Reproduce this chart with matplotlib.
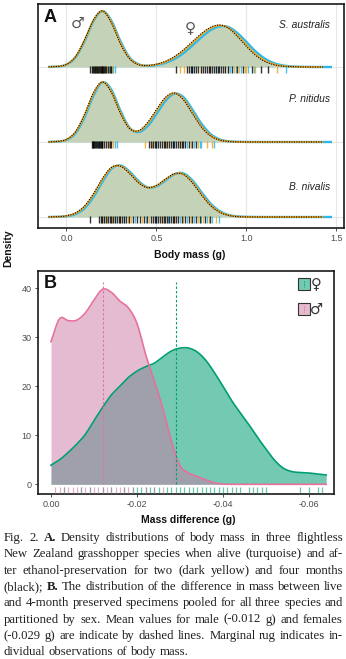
import numpy as np
import matplotlib
matplotlib.use("Agg")
import matplotlib.pyplot as plt
from matplotlib.patches import Rectangle
from matplotlib.lines import Line2D

# ----------------------------------------------------------------- data
# Panel A: ridge densities (relative height units; 75 units = ridge spacing)
SPECIES = ["S. australis", "P. nitidus", "B. nivalis"]
X_GRID = [-0.10, -0.05, 0.00, 0.05, 0.10, 0.15, 0.20, 0.25, 0.30, 0.35, 0.40,
          0.45, 0.50, 0.55, 0.60, 0.65, 0.70, 0.75, 0.80, 0.85, 0.90, 0.95,
          1.00, 1.05, 1.10, 1.15, 1.20, 1.25, 1.30, 1.35, 1.40, 1.45]

sa_alive = [0.05, 0.4, 2.5, 9.6, 25.6, 46, 56, 46, 25.6, 9.6, 2.8, 1.2, 2.0, 4.2, 8.1,
            13.9, 21.6, 29.8, 36.8, 40.6, 39.9, 33.9, 24.9, 15.7, 8.6, 4.0, 1.6, 0.6,
            0.2, 0.05, 0, 0]
sa_2m = [0.1, 0.5, 2.6, 10.2, 26.6, 46.7, 56, 44.6, 23.8, 8.7, 2.5, 1.4, 2.6, 5.2, 9.8,
         16.3, 24.3, 32.5, 38.8, 41.6, 39.1, 31.5, 21.8, 12.9, 6.6, 2.9, 1.0, 0.4, 0.1,
         0, 0, 0]
sa_4m = [0.1, 0.5, 2.6, 10.4, 27, 47, 56, 44, 23, 8.3, 2.4, 1.5, 2.8, 5.7, 10.5, 17.3,
         25.5, 33.6, 39.7, 42, 38.8, 30.5, 20.4, 11.7, 5.7, 2.4, 0.8, 0.3, 0.1, 0, 0, 0]

pn_alive = [0.04, 0.35, 2.1, 8.7, 24.5, 46.5, 59.8, 52, 31.1, 14.4, 9.9, 15.8, 28, 41.2,
            48.3, 44.8, 32.3, 18.2, 8.0, 2.7, 0.7, 0.2, 0.05, 0, 0, 0, 0, 0, 0, 0, 0, 0]
pn_2m = [0.05, 0.45, 2.4, 9.8, 26.6, 48.5, 60, 50.2, 29.2, 13.8, 10.9, 18.3, 31.2, 43.7,
         48.8, 42.9, 29.4, 15.7, 6.6, 2.1, 0.6, 0.1, 0, 0, 0, 0, 0, 0, 0, 0, 0, 0]
pn_4m = [0.05, 0.5, 2.6, 10.3, 27.5, 49.4, 60, 49.4, 28.4, 13.5, 11.3, 19.4, 32.6, 44.7,
         49, 42.1, 28.2, 14.7, 6.0, 1.9, 0.5, 0.1, 0, 0, 0, 0, 0, 0, 0, 0, 0, 0]

bn_alive = [0.01, 0.12, 0.74, 2.9, 8.7, 20.1, 35.4, 48.2, 51.5, 45.5, 35.9, 29.7, 30.6,
            36.6, 42.8, 43.6, 36.5, 24.7, 13.5, 6.0, 2.1, 0.6, 0.15, 0.03, 0, 0, 0, 0,
            0, 0, 0, 0]
bn_2m = [0.03, 0.22, 1.06, 3.74, 10.3, 22.4, 37.6, 49.2, 51.0, 44.1, 34.7, 29.5, 31.3,
         37.6, 43.1, 42.8, 34.8, 22.8, 12.0, 5.2, 1.8, 0.5, 0.1, 0, 0, 0, 0, 0, 0, 0, 0, 0]
bn_4m = [0.04, 0.26, 1.2, 4.1, 11.0, 23.4, 38.6, 49.7, 50.8, 43.5, 34.2, 29.4, 31.6,
         38.0, 43.3, 42.5, 34.0, 22.0, 11.4, 4.8, 1.6, 0.4, 0.1, 0, 0, 0, 0, 0, 0, 0, 0, 0]

ALIVE_END = 1.475
PRESERVED_END = 1.425

# rug observations (body mass, g)
sa_rug_alive = [0.16, 0.235, 0.26, 0.27, 0.70, 0.83, 0.90, 0.91, 0.94, 0.97, 1.01, 1.04, 1.22]
sa_rug_2m = [0.14, 0.17, 0.20, 0.225, 0.245, 0.255, 0.63, 0.655, 0.75, 0.80, 0.88, 0.93,
             0.96, 0.99, 1.00, 1.05, 1.17]
sa_rug_4m = [0.13, 0.14, 0.15, 0.155, 0.16, 0.165, 0.17, 0.175, 0.18, 0.185, 0.19, 0.195,
             0.20, 0.205, 0.21, 0.215, 0.22, 0.23, 0.24, 0.25, 0.61, 0.67, 0.68, 0.69,
             0.70, 0.71, 0.72, 0.73, 0.745, 0.76, 0.77, 0.78, 0.79, 0.80, 0.81, 0.82,
             0.83, 0.84, 0.85, 0.86, 0.87, 0.88, 0.90, 0.92, 0.95, 0.98, 1.03, 1.08, 1.12]
pn_rug_alive = [0.18, 0.27, 0.28, 0.50, 0.59, 0.67, 0.71, 0.74, 0.75, 0.82]
pn_rug_2m = [0.15, 0.20, 0.235, 0.26, 0.435, 0.475, 0.555, 0.63, 0.69, 0.73, 0.78, 0.81]
pn_rug_4m = [0.14, 0.145, 0.15, 0.155, 0.16, 0.165, 0.17, 0.175, 0.18, 0.185, 0.19, 0.195,
             0.20, 0.21, 0.22, 0.23, 0.24, 0.25, 0.46, 0.47, 0.48, 0.49, 0.50, 0.51, 0.52,
             0.53, 0.54, 0.55, 0.56, 0.57, 0.58, 0.59, 0.60, 0.61, 0.62, 0.63, 0.64, 0.65,
             0.66, 0.68, 0.70, 0.72]
bn_rug_alive = [0.21, 0.27, 0.32, 0.38, 0.44, 0.50, 0.565, 0.63, 0.67, 0.71, 0.75, 0.78,
                0.81, 0.85]
bn_rug_2m = [0.20, 0.225, 0.255, 0.30, 0.34, 0.36, 0.42, 0.46, 0.53, 0.60, 0.65, 0.69,
             0.73, 0.76, 0.79, 0.83]
bn_rug_4m = [0.13, 0.18, 0.19, 0.20, 0.21, 0.22, 0.23, 0.24, 0.25, 0.26, 0.27, 0.28, 0.29,
             0.30, 0.31, 0.32, 0.33, 0.35, 0.37, 0.39, 0.41, 0.43, 0.45, 0.47, 0.48, 0.49,
             0.50, 0.51, 0.52, 0.53, 0.54, 0.55, 0.56, 0.57, 0.58, 0.59, 0.60, 0.61, 0.62,
             0.64, 0.66, 0.68, 0.70, 0.72, 0.74, 0.77, 0.80]

A_TICKS = [0.0, 0.5, 1.0, 1.5]
A_TICKLABELS = ["0.0", "0.5", "1.0", "1.5"]

# Panel B: density of mass difference (g), by sex
DIFF_X = [0.000, -0.002, -0.004, -0.006, -0.008, -0.010, -0.012, -0.014, -0.016, -0.018,
          -0.020, -0.022, -0.024, -0.026, -0.028, -0.030, -0.032, -0.034, -0.036, -0.038,
          -0.040, -0.042, -0.044, -0.046, -0.048, -0.050, -0.052, -0.054, -0.056, -0.058,
          -0.060, -0.062, -0.064]
MALE_DENS = [29.1, 33.8, 33.4, 33.5, 35.0, 37.6, 39.8, 39.2, 37.4, 36.0, 32.8, 26.5, 21.2,
             15.5, 8.8, 3.8, 2.3, 1.6, 0.9, 0.3, 0.05, 0, 0, 0, 0, 0, 0, 0, 0, 0, 0, 0, 0]
FEMALE_DENS = [3.9, 5.0, 6.5, 8.2, 10.2, 13.0, 15.7, 18.2, 20.0, 21.8, 23.1, 24.0, 24.7,
               26.0, 27.2, 27.8, 27.8, 27.0, 25.3, 22.8, 20.0, 17.1, 14.6, 12.2, 9.6, 7.2,
               4.9, 3.3, 2.6, 2.4, 2.3, 2.1, 1.9]
MALE_MEAN = -0.012
FEMALE_MEAN = -0.029
MALE_RUG = [-0.001, -0.002, -0.003, -0.004, -0.005, -0.006, -0.007, -0.008, -0.009, -0.010,
            -0.011, -0.012, -0.013, -0.014, -0.015, -0.016, -0.017, -0.018, -0.019,
            -0.022, -0.024, -0.026]
FEMALE_RUG = [-0.003, -0.007, -0.009, -0.012, -0.014, -0.017, -0.019, -0.020, -0.021,
              -0.022, -0.023, -0.024, -0.025, -0.027, -0.028, -0.029, -0.030, -0.031,
              -0.032, -0.033, -0.034, -0.035, -0.036, -0.037, -0.038, -0.039, -0.040,
              -0.041, -0.042, -0.043, -0.044, -0.046, -0.047, -0.048, -0.049, -0.050,
              -0.058, -0.060, -0.062, -0.063]
B_XTICKS = [0.00, -0.02, -0.04, -0.06]
B_XTICKLABELS = ["0.00", "-0.02", "-0.04", "-0.06"]
B_YTICKS = [0, 10, 20, 30, 40]

CAPTION_LINES = [
    "Fig. 2. A. Density distributions of body mass in three flightless",
    "New Zealand grasshopper species when alive (turquoise) and af-",
    "ter ethanol-preservation for two (dark yellow) and four months",
    "(black); B. The distribution of the difference in mass between live",
    "and 4-month preserved specimens pooled for all three species and",
    "partitioned by sex. Mean values for male (-0.012 g) and females",
    "(-0.029 g) are indicate by dashed lines. Marginal rug indicates in-",
    "dividual observations of body mass.",
]
CAPTION_BOLD = {(0, 2), (3, 1)}  # (line, word index)

# ----------------------------------------------------------------- style
TURQ = "#2DB8EA"
YEL = "#F2A620"
SAGE = "#C4D2B8"
LIGHTBLUE = "#BDE3F3"
GREEN = "#009E73"
PINKFILL = "#CC79A7"
PINKLINE = "#E5719C"
SANS = ["Liberation Sans", "DejaVu Sans"]
SERIF = ["Liberation Serif", "DejaVu Serif"]

plt.rcParams["font.family"] = SANS

W, H = 346, 659
fig = plt.figure(figsize=(W / 100, H / 100), dpi=100)


def fx(px):
    return px / W


def fy(py):
    return 1 - py / H


def box(l, t, r, b):
    return [l / W, 1 - b / H, (r - l) / W, (b - t) / H]


def smooth(x, y, n=16):
    x = np.asarray(x, float)
    y = np.asarray(y, float)
    m = np.gradient(y, x)
    xs, ys = [], []
    t = np.linspace(0, 1, n, endpoint=False)
    h00 = 2 * t**3 - 3 * t**2 + 1
    h10 = t**3 - 2 * t**2 + t
    h01 = -2 * t**3 + 3 * t**2
    h11 = t**3 - t**2
    for i in range(len(x) - 1):
        h = x[i + 1] - x[i]
        xs.append(x[i] + t * h)
        ys.append(h00 * y[i] + h10 * h * m[i] + h01 * y[i + 1] + h11 * h * m[i + 1])
    xs.append([x[-1]])
    ys.append([y[-1]])
    return np.concatenate(xs), np.clip(np.concatenate(ys), 0, None)


# ----------------------------------------------------------------- panel A
axA = fig.add_axes(box(38, 4, 344, 228))
SCALE = 1 / 75.0
axA.set_xlim(-0.1583, 1.5417)
axA.set_ylim(-0.1467, 2.84)

for xv in A_TICKS:
    axA.axvline(xv, color="#E6E6E6", lw=0.8, zorder=0)

ridges = [
    (2, sa_alive, sa_2m, sa_4m, sa_rug_alive, sa_rug_2m, sa_rug_4m),
    (1, pn_alive, pn_2m, pn_4m, pn_rug_alive, pn_rug_2m, pn_rug_4m),
    (0, bn_alive, bn_2m, bn_4m, bn_rug_alive, bn_rug_2m, bn_rug_4m),
]
for base, alive, m2, m4, r_al, r_2, r_4 in ridges:
    axA.axhline(base, color="#E6E6E6", lw=0.8, zorder=0)
    xa, ya = smooth(X_GRID, alive)
    xa = np.append(xa, ALIVE_END)
    ya = np.append(ya, 0)
    x2, y2 = smooth(X_GRID, m2)
    x4, y4 = smooth(X_GRID, m4)
    k2 = x2 <= PRESERVED_END
    k4 = x4 <= PRESERVED_END
    x2, y2, x4, y4 = x2[k2], y2[k2], x4[k4], y4[k4]
    axA.fill_between(xa, base, base + ya * SCALE, color=LIGHTBLUE, lw=0, zorder=1)
    axA.fill_between(x4, base, base + y4 * SCALE, color=SAGE, lw=0, zorder=2)
    axA.plot(xa, base + ya * SCALE, color=TURQ, lw=1.7, zorder=3, solid_capstyle="butt")
    axA.plot(x2, base + y2 * SCALE, color=YEL, lw=1.3, zorder=4, solid_capstyle="butt")
    axA.plot(x4, base + y4 * SCALE, color="black", lw=0.8, zorder=5,
             linestyle=(0, (1, 1.2)))
    ylo, yhi = base - 6 * SCALE, base + 1 * SCALE
    axA.vlines(r_al, ylo, yhi, color=TURQ, lw=1.0, alpha=0.85, zorder=6)
    axA.vlines(r_2, ylo, yhi, color=YEL, lw=1.0, alpha=0.85, zorder=6)
    axA.vlines(r_4, ylo, yhi, color="black", lw=1.0, alpha=0.8, zorder=7)

label_y = [2.56, 1.57, 0.40]
for name, ly in zip(SPECIES, label_y):
    axA.text(1.464, ly, name, ha="right", va="center", fontsize=7.4, style="italic",
             color="#222222")
axA.text(0.064, 2.585, "\u2642", ha="center", va="center", fontsize=11,
         color="#555555", family=["DejaVu Sans"])
axA.text(0.686, 2.52, "\u2640", ha="center", va="center", fontsize=11,
         color="#555555", family=["DejaVu Sans"])

axA.set_xticks(A_TICKS)
axA.set_xticklabels(A_TICKLABELS)
axA.set_yticks([])
axA.tick_params(axis="x", labelsize=6.5, length=2, width=0.6, color="#333333",
                labelcolor="#4D4D4D", pad=2.5)
for s in axA.spines.values():
    s.set_linewidth(1.2)
    s.set_color("#1A1A1A")

# ----------------------------------------------------------------- panel B
axB = fig.add_axes(box(38, 271, 334, 494))
axB.set_xlim(0.003023, -0.06581)
axB.set_ylim(-1.98, 43.53)

xm, ym = smooth(DIFF_X, MALE_DENS, n=8)
xf, yf = smooth(DIFF_X, FEMALE_DENS, n=8)
axB.fill_between(xf, 0, yf, color=GREEN, alpha=0.55, lw=0, zorder=1)
axB.fill_between(xm, 0, ym, color=PINKFILL, alpha=0.5, lw=0, zorder=2)
axB.plot(xf, yf, color=GREEN, lw=1.2, zorder=4)
axB.plot(xm, ym, color=PINKLINE, lw=1.2, zorder=5)
axB.vlines([MALE_MEAN], 0, 41.3, color=PINKLINE, lw=0.8, linestyles=(0, (2.2, 1.8)),
           zorder=6)
axB.vlines([FEMALE_MEAN], 0, 41.3, color=GREEN, lw=0.8, linestyles=(0, (2.2, 1.8)),
           zorder=6)
axB.vlines(FEMALE_RUG, -1.8, -0.55, color=GREEN, lw=0.9, alpha=0.6, zorder=3)
axB.vlines(MALE_RUG, -1.8, -0.55, color=PINKFILL, lw=0.9, alpha=0.6, zorder=3)

axB.set_xticks(B_XTICKS)
axB.set_xticklabels(B_XTICKLABELS)
axB.set_yticks(B_YTICKS)
axB.tick_params(labelsize=6.5, length=2, width=0.6, color="#333333",
                labelcolor="#4D4D4D", pad=2.5)
for s in axB.spines.values():
    s.set_linewidth(1.2)
    s.set_color("#1A1A1A")

# legend (manual)
for top, col, alpha, lcol, sym in [(278, GREEN, 0.55, GREEN, "\u2640"),
                                   (303, PINKFILL, 0.5, PINKLINE, "\u2642")]:
    fig.add_artist(Rectangle((fx(298), fy(top + 12)), 12 / W, 12 / H,
                             transform=fig.transFigure, facecolor=col, alpha=alpha,
                             edgecolor="none"))
    fig.add_artist(Rectangle((fx(298), fy(top + 12)), 12 / W, 12 / H,
                             transform=fig.transFigure, facecolor="none",
                             edgecolor="#333333", lw=0.8))
    fig.add_artist(Line2D([fx(304), fx(304)], [fy(top + 3), fy(top + 9)],
                          transform=fig.transFigure, color=lcol, lw=0.7,
                          linestyle=(0, (1.5, 1.2))))
    fig.text(fx(316.5), fy(top + 6), sym, ha="center", va="center", fontsize=10.5,
             color="#333333", family=["DejaVu Sans"])

# ----------------------------------------------------------------- labels
fig.text(fx(50), fy(18), "A", fontsize=13, weight="bold", ha="center", va="center",
         color="#111111")
fig.text(fx(50), fy(283), "B", fontsize=13, weight="bold", ha="center", va="center",
         color="#111111")
fig.text(fx(190), fy(255), "Body mass (g)", fontsize=7.5, weight="bold",
         ha="center", va="center", color="#111111")
fig.text(fx(188), fy(520), "Mass difference (g)", fontsize=7.5, weight="bold",
         ha="center", va="center", color="#111111")
fig.text(fx(8), fy(248), "Density", fontsize=7.5, weight="bold", rotation=90,
         ha="center", va="center", color="#111111")

# ----------------------------------------------------------------- caption
renderer = fig.canvas.get_renderer()
CAP_FS = 9.2
LEFT, RIGHT = 4.0, 343.0
probe = fig.text(0, 0, "a a", fontsize=CAP_FS, family=SERIF)
w_aa = probe.get_window_extent(renderer).width
probe.set_text("aa")
space_w = w_aa - probe.get_window_extent(renderer).width
probe.remove()
for li, line in enumerate(CAPTION_LINES):
    words = line.split(" ")
    py = 538 + li * 16.35
    objs, widths = [], []
    for wi, wd in enumerate(words):
        weight = "bold" if (li, wi) in CAPTION_BOLD else "normal"
        t = fig.text(0, fy(py), wd, fontsize=CAP_FS, family=SERIF, weight=weight,
                     ha="left", va="center", color="#231F20")
        objs.append(t)
        widths.append(t.get_window_extent(renderer).width)
    if li < len(CAPTION_LINES) - 1 and len(words) > 1:
        gap = (RIGHT - LEFT - sum(widths)) / (len(words) - 1)
    else:
        gap = space_w
    x = LEFT
    for t, wd in zip(objs, widths):
        t.set_x(fx(x))
        x += wd + gap

fig.savefig("out.png", dpi=100)
